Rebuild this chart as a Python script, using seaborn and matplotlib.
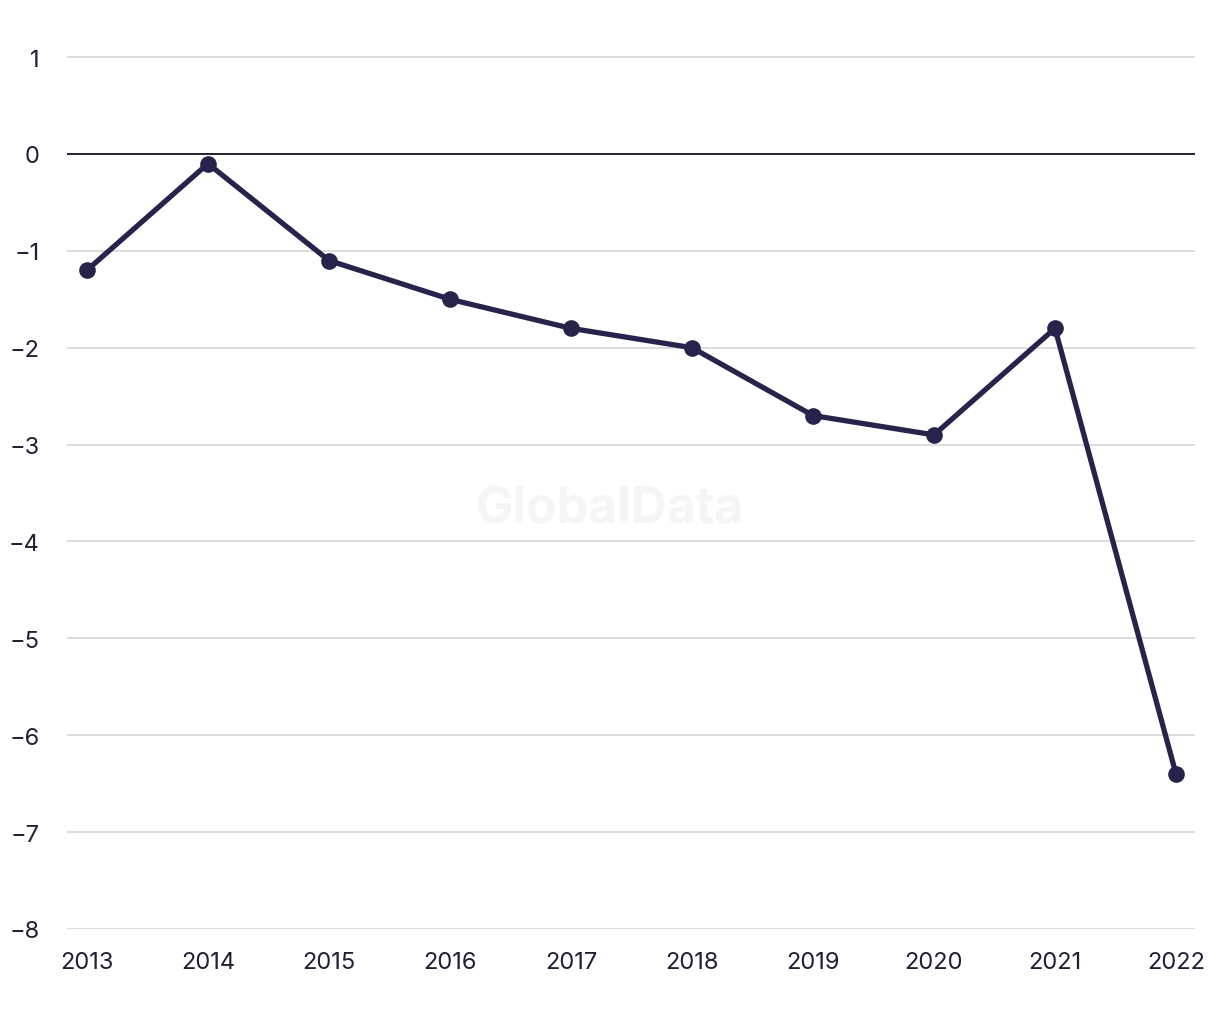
import matplotlib
matplotlib.use("Agg")
import matplotlib.pyplot as plt
import seaborn as sns
import pandas as pd

years = [2013, 2014, 2015, 2016, 2017, 2018, 2019, 2020, 2021, 2022]
values = [-1.2, -0.1, -1.1, -1.5, -1.8, -2.0, -2.7, -2.9, -1.8, -6.4]
yticks = [1, 0, -1, -2, -3, -4, -5, -6, -7, -8]

sns.set_theme(style="white")
plt.rcParams['font.family'] = ['Inter', 'DejaVu Sans']

df = pd.DataFrame({"year": years, "value": values})

fig = plt.figure(figsize=(12.2, 10.2), dpi=100)
ax = fig.add_axes([67/1220, 90/1020, (1195-67)/1220, (930-29)/1020])

line_color = "#26244a"
for y in yticks:
    if y != 0:
        ax.axhline(y, color="#d9d9d9", lw=1.3, zorder=0)
ax.axhline(0, color="#111122", lw=1.3, zorder=1)

sns.lineplot(data=df, x="year", y="value", ax=ax, color=line_color, lw=3.8,
             marker="o", markersize=12, markeredgewidth=0, zorder=3)

ax.set_xlim(2012.835, 2022.157)
ax.set_ylim(-8, 1.3)
ax.set_xticks(years)
ax.set_xticklabels([str(y) for y in years])
ax.set_yticks(yticks)
ax.set_xlabel("")
ax.set_ylabel("")
for s in ax.spines.values():
    s.set_visible(False)
ax.tick_params(axis="both", length=0, labelsize=17, colors="#1f1f35")
ax.tick_params(axis="x", pad=16)
ax.tick_params(axis="y", pad=19.5)
for lab in ax.get_yticklabels():
    lab.set_horizontalalignment("right")

ax.text(0.5, 0.5, "GlobalData", transform=fig.transFigure, ha="center", va="center",
        fontsize=36, fontweight="bold", color="#f5f5f5", zorder=0)

fig.savefig("out.png", dpi=100, facecolor="white")
